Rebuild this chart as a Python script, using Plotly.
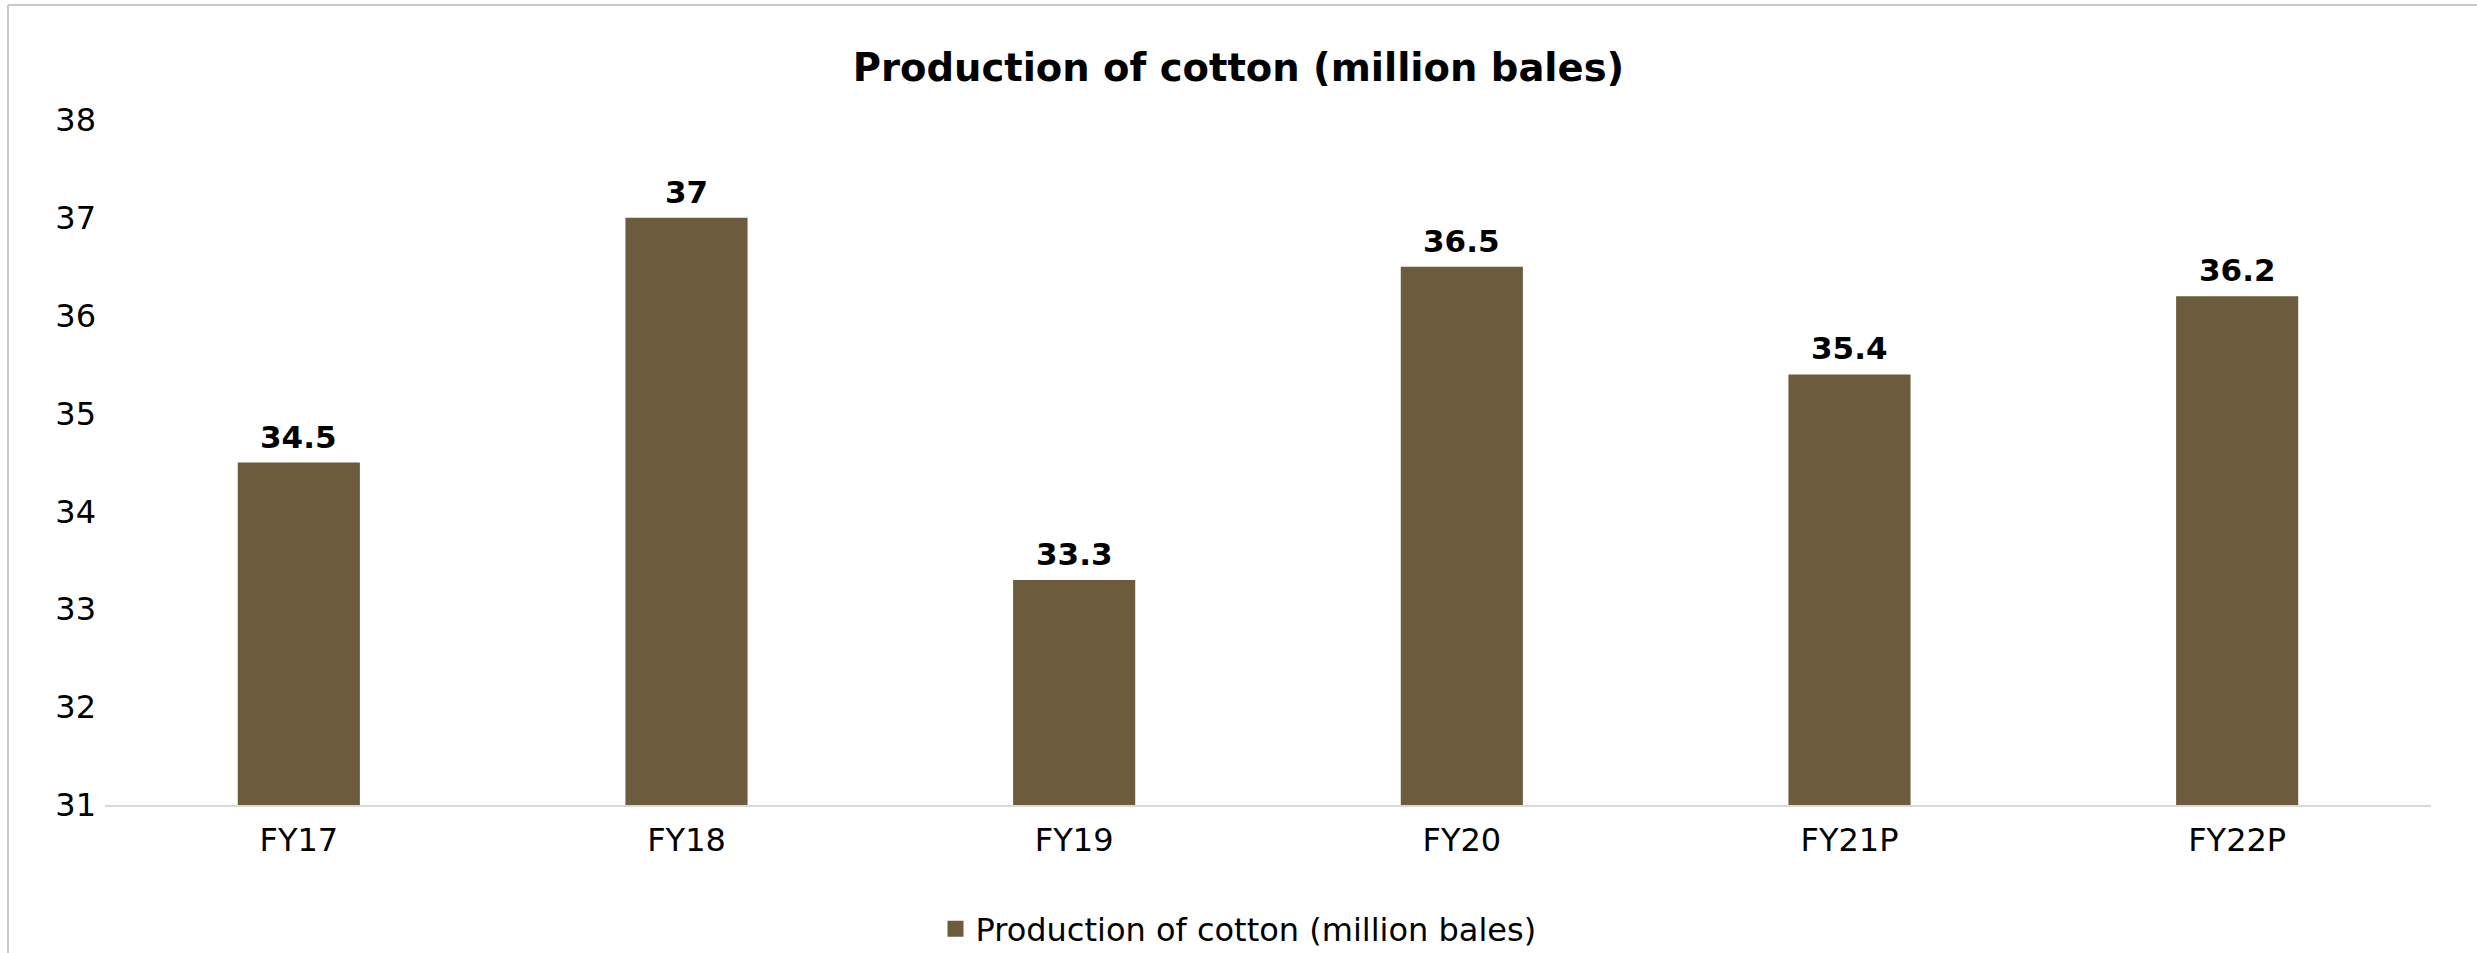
import plotly.graph_objects as go

categories = ["FY17", "FY18", "FY19", "FY20", "FY21P", "FY22P"]
production = [34.5, 37, 33.3, 36.5, 35.4, 36.2]
series_name = "Production of cotton (million bales)"
y_ticks = [31, 32, 33, 34, 35, 36, 37, 38]

BAR = "#6C5B3D"
FONT = "DejaVu Sans"

fig = go.Figure()
fig.add_trace(go.Bar(
    x=categories, y=production, name=series_name,
    marker=dict(color=BAR, line=dict(width=0)),
    showlegend=False,
))
# legend entry with a larger square swatch
fig.add_trace(go.Scatter(
    x=[None], y=[None], mode="markers", name=series_name,
    marker=dict(symbol="square", size=20, color=BAR),
))

for c, v in zip(categories, production):
    fig.add_annotation(
        x=c, y=v, text=f"<b>{v:g}</b>", showarrow=False,
        yanchor="bottom", yshift=6,
        font=dict(family=FONT, size=31, color="#000000"),
    )

W, H = 2477, 953
L, R, T, B = 105, 46, 120, 148
pw, ph = W - L - R, H - T - B

fig.update_layout(
    width=W, height=H,
    margin=dict(l=L, r=R, t=T, b=B, pad=0),
    paper_bgcolor="white", plot_bgcolor="white",
    font=dict(family=FONT, size=32, color="#000000"),
    title=dict(text="<b>Production of cotton (million bales)</b>",
               x=0.5, xref="container", xanchor="center",
               y=1 - 68 / H, yref="container", yanchor="middle",
               font=dict(family=FONT, size=38.5, color="#000000")),
    bargap=0.685,
    showlegend=True,
    legend=dict(orientation="h", x=0.5, xref="container", xanchor="center",
                y=1 - 929 / H, yref="container", yanchor="middle",
                font=dict(family=FONT, size=32, color="#000000"),
                itemwidth=30, tracegroupgap=0),
    xaxis=dict(showgrid=False, showline=True, linecolor="#D9D9D9", linewidth=2,
               ticks="", tickfont=dict(family=FONT, size=32), ticklabelstandoff=6,
               fixedrange=True),
    yaxis=dict(range=[31, 38], tickvals=y_ticks, showgrid=False, showline=False,
               zeroline=False, ticks="", tickfont=dict(family=FONT, size=32),
               ticklabelstandoff=8, fixedrange=True),
    shapes=[
        dict(type="line", xref="paper", yref="paper",
             x0=(8 - L) / pw, x1=(8 - L) / pw, y0=1 + (T - 5) / ph, y1=-0.5,
             line=dict(color="#C9C9C9", width=2)),
        dict(type="line", xref="paper", yref="paper",
             x0=(8 - L) / pw, x1=1.1, y0=1 + (T - 5) / ph, y1=1 + (T - 5) / ph,
             line=dict(color="#C9C9C9", width=2)),
    ],
)

fig.write_html("out.html", config={"displayModeBar": False})
